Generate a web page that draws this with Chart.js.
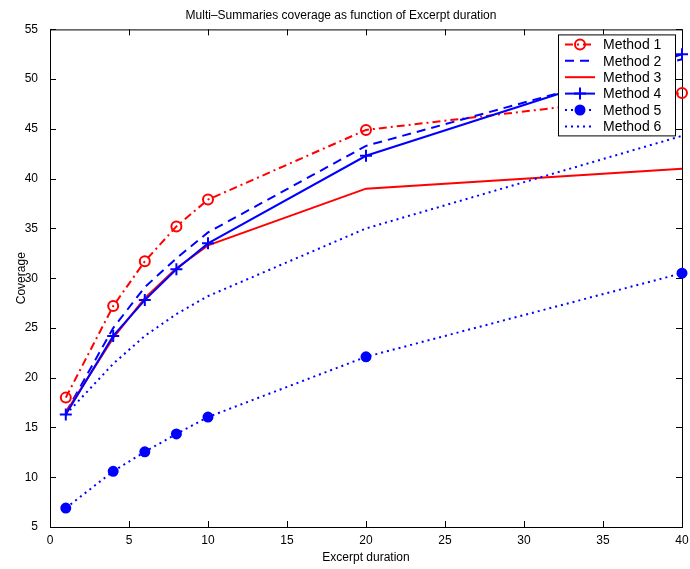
<!DOCTYPE html>
<html><head><meta charset="utf-8">
<script src="https://cdn.jsdelivr.net/npm/chart.js@4/dist/chart.umd.min.js"></script>
<style>html,body{margin:0;padding:0;background:#fff;}</style>
</head><body>
<canvas id="c" width="690" height="569" style="display:block;width:690px;height:569px"></canvas>
<script>
// ---- data ----
const durations = [1, 4, 6, 8, 10, 20, 40];
const method1 = [18.0, 27.2, 31.7, 35.2, 37.9, 44.9, 48.6];
const method2 = [16.5, 25.0, 29.1, 32.0, 34.6, 43.3, 52.0];
const method3 = [16.5, 24.0, 28.0, 31.0, 33.3, 39.0, 41.0];
const method4 = [16.3, 24.2, 27.8, 30.9, 33.5, 42.3, 52.5];
const method5 = [6.9, 10.6, 12.55, 14.35, 16.05, 22.1, 30.5];
const method6 = [16.3, 21.4, 24.2, 26.4, 28.2, 35.0, 44.3];
const seriesNames = ['Method 1', 'Method 2', 'Method 3', 'Method 4', 'Method 5', 'Method 6'];
const xTickValues = [0, 5, 10, 15, 20, 25, 30, 35, 40];
const yTickValues = [5, 10, 15, 20, 25, 30, 35, 40, 45, 50, 55];

const RED = '#ff0000', BLUE = '#0000ff';
const pts = arr => durations.map((d, i) => ({x: d, y: arr[i]}));

const styles = [
  {color: RED,  dash: [8, 4, 2, 4], pointStyle: 'circle', radius: 5, fill: false},
  {color: BLUE, dash: [9, 6],       pointStyle: false,   radius: 0, fill: false},
  {color: RED,  dash: [],           pointStyle: false,   radius: 0, fill: false},
  {color: BLUE, dash: [],           pointStyle: 'cross', radius: 6, fill: false},
  {color: BLUE, dash: [2, 4],       pointStyle: 'circle', radius: 4.5, fill: true},
  {color: BLUE, dash: [2, 4],       pointStyle: false,   radius: 0, fill: false}
];
const allSeries = [method1, method2, method3, method4, method5, method6];

const datasets = allSeries.map((s, i) => {
  const st = styles[i];
  return {
    label: seriesNames[i],
    data: pts(s),
    borderColor: st.color,
    borderWidth: 2,
    borderDash: st.dash,
    pointStyle: st.pointStyle || 'circle',
    pointRadius: st.radius,
    pointHoverRadius: st.radius,
    pointBorderColor: st.color,
    pointBorderWidth: 2,
    pointBackgroundColor: st.fill ? st.color : 'rgba(0,0,0,0)',
    fill: false,
    tension: 0,
    clip: false,
    order: 6 - i
  };
});

const FONT = '"Liberation Sans", Arial, Helvetica, sans-serif';

const framePlugin = {
  id: 'frame',
  beforeDatasetsDraw(chart) {
    const {ctx, chartArea: a, scales} = chart;
    ctx.save();
    ctx.strokeStyle = '#000';
    ctx.lineWidth = 1;
    ctx.strokeRect(a.left + 0.5, a.top + 0.5, a.right - a.left, a.bottom - a.top);
    const L = 6;
    ctx.beginPath();
    scales.x.ticks.forEach(t => {
      const px = Math.round(scales.x.getPixelForValue(t.value)) + 0.5;
      ctx.moveTo(px, a.bottom); ctx.lineTo(px, a.bottom - L);
      ctx.moveTo(px, a.top); ctx.lineTo(px, a.top + L);
    });
    scales.y.ticks.forEach(t => {
      const py = Math.round(scales.y.getPixelForValue(t.value)) + 0.5;
      ctx.moveTo(a.left, py); ctx.lineTo(a.left + L, py);
      ctx.moveTo(a.right, py); ctx.lineTo(a.right - L, py);
    });
    ctx.stroke();
    ctx.restore();
  }
};

const legendPlugin = {
  id: 'matLegend',
  afterDatasetsDraw(chart) {
    const {ctx, chartArea: a} = chart;
    const w = 117, rowH = 16.4, h = 101;
    const x0 = a.right - 7 - w, y0 = a.top + 5;
    ctx.save();
    ctx.fillStyle = '#fff';
    ctx.fillRect(x0, y0, w, h);
    ctx.strokeStyle = '#000';
    ctx.lineWidth = 1;
    ctx.strokeRect(x0 + 0.5, y0 + 0.5, w, h);
    chart.data.datasets.forEach((ds, i) => {
      const cy = y0 + 10 + i * rowH;
      const lx0 = x0 + 7, lx1 = x0 + 37, cx = (lx0 + lx1) / 2;
      ctx.strokeStyle = ds.borderColor;
      ctx.lineWidth = ds.borderWidth;
      ctx.setLineDash(ds.borderDash || []);
      ctx.beginPath(); ctx.moveTo(lx0, cy); ctx.lineTo(lx1, cy); ctx.stroke();
      ctx.setLineDash([]);
      if (ds.pointRadius > 0) {
        const r = ds.pointRadius;
        ctx.lineWidth = ds.pointBorderWidth;
        ctx.strokeStyle = ds.pointBorderColor;
        ctx.fillStyle = ds.pointBackgroundColor;
        if (ds.pointStyle === 'cross') {
          ctx.beginPath();
          ctx.moveTo(cx - r, cy); ctx.lineTo(cx + r, cy);
          ctx.moveTo(cx, cy - r); ctx.lineTo(cx, cy + r);
          ctx.stroke();
        } else {
          ctx.beginPath(); ctx.arc(cx, cy, r, 0, Math.PI * 2);
          ctx.fill(); ctx.stroke();
        }
      }
      ctx.fillStyle = '#000';
      ctx.font = '14px ' + FONT;
      ctx.textBaseline = 'middle';
      ctx.textAlign = 'left';
      ctx.fillText(ds.label, x0 + 45, cy + 1);
    });
    ctx.restore();
  }
};

new Chart(document.getElementById('c'), {
  type: 'line',
  data: {datasets},
  plugins: [framePlugin, legendPlugin],
  options: {
    responsive: false,
    animation: false,
    devicePixelRatio: 1,
    layout: {padding: {top: 0, right: 8, left: 0, bottom: 0}},
    plugins: {
      legend: {display: false},
      tooltip: {enabled: false},
      title: {
        display: true,
        text: 'Multi\u2013Summaries coverage as function of Excerpt duration',
        color: '#000',
        font: {family: FONT, size: 12, weight: 'normal'},
        padding: {top: 8, bottom: 7}
      }
    },
    scales: {
      x: {
        type: 'linear',
        min: 0, max: 40,
        afterBuildTicks: s => { s.ticks = xTickValues.map(v => ({value: v})); },
        afterFit: s => { s.height = 42; s.paddingLeft = 0; s.paddingRight = 0; },
        grid: {display: false, drawTicks: false},
        border: {display: false},
        ticks: {color: '#000', padding: 6, font: {family: FONT, size: 12}, maxRotation: 0},
        title: {display: true, text: 'Excerpt duration', color: '#000',
                font: {family: FONT, size: 12}, padding: {top: 0, bottom: 4}}
      },
      y: {
        type: 'linear',
        min: 5, max: 55,
        afterBuildTicks: s => { s.ticks = yTickValues.map(v => ({value: v})); },
        afterFit: s => { s.width = 50; s.paddingTop = 0; s.paddingBottom = 0; },
        grid: {display: false, drawTicks: false},
        border: {display: false},
        ticks: {color: '#000', padding: 12, font: {family: FONT, size: 12}},
        title: {display: true, text: 'Coverage', color: '#000',
                font: {family: FONT, size: 12}, padding: {top: 14, bottom: 0}}
      }
    }
  }
});
</script>
</body></html>
